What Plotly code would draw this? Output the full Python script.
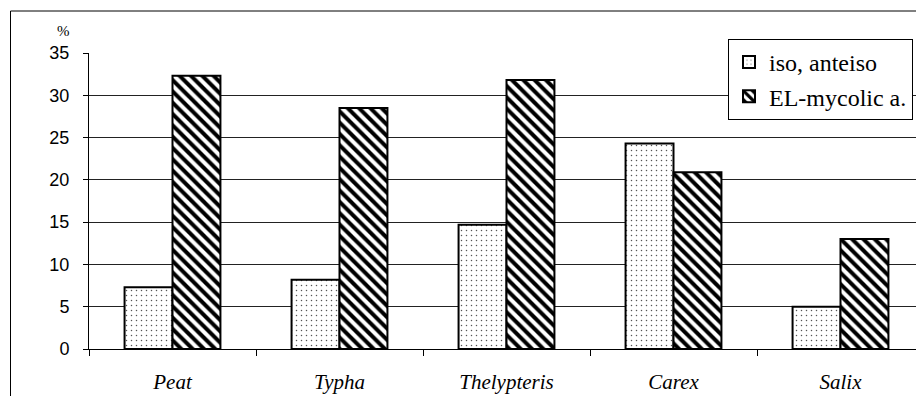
import plotly.graph_objects as go

categories = ["Peat", "Typha", "Thelypteris", "Carex", "Salix"]
iso_anteiso = [7.3, 8.2, 14.7, 24.3, 5.0]
el_mycolic = [32.3, 28.5, 31.8, 20.9, 13.0]
series_names = ["iso, anteiso", "EL-mycolic a."]
y_ticks = [0, 5, 10, 15, 20, 25, 30, 35]

# The page body has an 8px margin, so the figure is offset by 8px.
OFF = 8
W, H = 924 - OFF, 396 - OFF
L, R, T, B = 89 - OFF, 0, 53 - OFF, 396 - 349
pw, ph = W - L - R, H - T - B

def px(x):  # screen x -> paper
    return (x - OFF - L) / pw

def py(y):  # screen y -> paper
    return (H - B - (y - OFF)) / ph

SERIF = "Liberation Serif, Times New Roman, serif"

fig = go.Figure()
fig.add_trace(go.Bar(
    x=categories, y=iso_anteiso, name=series_names[0],
    marker=dict(color="white", line=dict(color="black", width=2),
                pattern=dict(shape=".", fgcolor="#555", bgcolor="white", fgopacity=1,
                             size=5, solidity=0.07)),
))
fig.add_trace(go.Bar(
    x=categories, y=el_mycolic, name=series_names[1],
    marker=dict(color="white", line=dict(color="black", width=2),
                pattern=dict(shape="\\", fgcolor="black", bgcolor="white", fgopacity=1,
                             size=8, solidity=0.5)),
))

fig.update_layout(
    width=W, height=H,
    margin=dict(l=L, r=R, t=T, b=B, autoexpand=False),
    paper_bgcolor="white", plot_bgcolor="white",
    barmode="group", bargap=0.426, bargroupgap=0,
    showlegend=True,
    legend=dict(
        x=px(728), y=py(39), xanchor="left", yanchor="top",
        bgcolor="white", bordercolor="black", borderwidth=1,
        font=dict(family=SERIF, size=24, color="black"),
        tracegroupgap=0, itemwidth=30,
    ),
    xaxis=dict(
        type="category", range=[-0.5, 4.5], automargin=False,
        tickson="boundaries", ticks="outside", ticklen=6, tickcolor="black",
        showgrid=False, showline=True, linecolor="black", linewidth=1,
        tickfont=dict(family=SERIF, size=21, color="black", style="italic"),
        ticklabelstandoff=14,
    ),
    yaxis=dict(
        range=[0, 35], tickvals=y_ticks, automargin=False,
        ticks="outside", ticklen=5, tickcolor="black",
        showgrid=True, gridcolor="#222", gridwidth=1,
        showline=True, linecolor="black", linewidth=1,
        zeroline=False,
        tickfont=dict(family="Liberation Sans, Arial, sans-serif", size=18, color="black"),
        ticklabelstandoff=10,
    ),
    annotations=[dict(
        text="%", xref="paper", yref="paper", x=px(63), y=py(31),
        xanchor="center", yanchor="middle", showarrow=False,
        font=dict(family=SERIF, size=15, color="black"),
    )],
    shapes=[dict(
        type="rect", xref="paper", yref="paper",
        x0=px(10.5), x1=px(940), y0=py(420), y1=py(11),
        line=dict(color="black", width=1), layer="below",
    )],
)

fig.write_html("out.html")
